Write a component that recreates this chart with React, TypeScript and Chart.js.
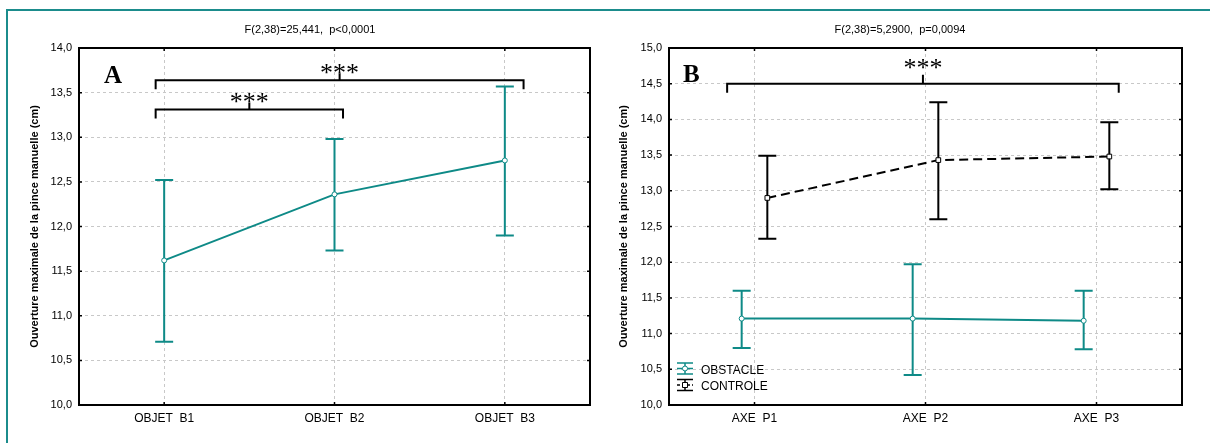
import React, { useEffect, useRef } from 'react';
import { Chart, registerables } from 'chart.js';
Chart.register(...registerables);

const TEAL = '#0e8a87';
const FRAME_TEAL = '#1b8c8c';
const SANS = "Arial, 'Liberation Sans', sans-serif";
const SERIF = "'Times New Roman', 'Liberation Serif', serif";

// ---------- Panel A data ----------
const categoriesA = ['OBJET  B1', 'OBJET  B2', 'OBJET  B3'];
const meanA = [11.62, 12.36, 12.74];
const lowA = [10.71, 11.73, 11.9];
const highA = [12.52, 12.98, 13.57];
const titleA = 'F(2,38)=25,441,  p<0,0001';

// ---------- Panel B data ----------
const categoriesB = ['AXE  P1', 'AXE  P2', 'AXE  P3'];
const obstacleMean = [11.21, 11.21, 11.18];
const obstacleLow = [10.8, 10.42, 10.78];
const obstacleHigh = [11.6, 11.97, 11.6];
const controleMean = [12.9, 13.43, 13.48];
const controleLow = [12.33, 12.6, 13.02];
const controleHigh = [13.49, 14.24, 13.96];
const titleB = 'F(2,38)=5,2900,  p=0,0094';

const yTitle = 'Ouverture maximale de la pince manuelle (cm)';
const legendLabels = ['OBSTACLE', 'CONTROLE'];

// significance brackets (category units / axis values)
const bracketsA = [
  { from: -0.05, to: 1.05, value: 13.31, label: '***' },
  { from: -0.05, to: 2.11, value: 13.64, label: '***' },
];
const bracketsB = [{ from: -0.16, to: 2.13, value: 14.5, label: '***' }];

const DODGE = 0.075;

type PanelCfg = {
  title: string;
  titleX: number;
  yTitleX: number;
  letter: string;
  letterX: number;
  letterY: number;
  brackets: { from: number; to: number; value: number; label: string }[];
  labelOffset: number;
  tickRise: number;
  errors: { lo: number[]; hi: number[]; color: string }[];
  legend: boolean;
};

function makePlugin(cfg: PanelCfg) {
  return {
    id: 'panelDecor',
    beforeDatasetsDraw(chart: any) {
      const ctx = chart.ctx;
      const xs = chart.scales.x;
      const ys = chart.scales.y;
      cfg.errors.forEach((e, di) => {
        const ds = chart.data.datasets[di];
        ctx.save();
        ctx.strokeStyle = e.color;
        ctx.lineWidth = 2;
        ds.data.forEach((pt: any, i: number) => {
          const x = xs.getPixelForValue(pt.x);
          const y1 = ys.getPixelForValue(e.lo[i]);
          const y2 = ys.getPixelForValue(e.hi[i]);
          ctx.beginPath();
          ctx.moveTo(x, y1);
          ctx.lineTo(x, y2);
          ctx.moveTo(x - 9, y1);
          ctx.lineTo(x + 9, y1);
          ctx.moveTo(x - 9, y2);
          ctx.lineTo(x + 9, y2);
          ctx.stroke();
        });
        ctx.restore();
      });
    },
    afterDraw(chart: any) {
      const ctx = chart.ctx;
      const { left, right, top, bottom } = chart.chartArea;
      const xs = chart.scales.x;
      const ys = chart.scales.y;
      ctx.save();
      // frame
      ctx.strokeStyle = '#000';
      ctx.lineWidth = 2;
      ctx.strokeRect(left, top, right - left, bottom - top);
      ctx.lineWidth = 1.5;
      ctx.beginPath();
      ys.ticks.forEach((t: any) => {
        const y = ys.getPixelForValue(t.value);
        ctx.moveTo(left, y);
        ctx.lineTo(left + 3, y);
        ctx.moveTo(right, y);
        ctx.lineTo(right - 3, y);
      });
      xs.ticks.forEach((t: any) => {
        const x = xs.getPixelForValue(t.value);
        ctx.moveTo(x, top);
        ctx.lineTo(x, top + 3);
        ctx.moveTo(x, bottom);
        ctx.lineTo(x, bottom - 3);
      });
      ctx.stroke();

      // title
      ctx.fillStyle = '#000';
      ctx.font = `11px ${SANS}`;
      ctx.textAlign = 'center';
      ctx.textBaseline = 'middle';
      ctx.fillText(cfg.title, cfg.titleX, 30);

      // y title
      ctx.save();
      ctx.translate(cfg.yTitleX, (top + bottom) / 2);
      ctx.rotate(-Math.PI / 2);
      ctx.font = `bold 11px ${SANS}`;
      ctx.fillText(yTitle, 0, 0);
      ctx.restore();

      // letter
      ctx.font = `bold 25px ${SERIF}`;
      ctx.textAlign = 'left';
      ctx.textBaseline = 'alphabetic';
      ctx.fillText(cfg.letter, cfg.letterX, cfg.letterY);

      // brackets
      ctx.strokeStyle = '#000';
      ctx.lineWidth = 2;
      cfg.brackets.forEach((b) => {
        const x1 = xs.getPixelForValue(b.from);
        const x2 = xs.getPixelForValue(b.to);
        const y = ys.getPixelForValue(b.value);
        const xm = (x1 + x2) / 2;
        ctx.beginPath();
        ctx.moveTo(x1, y + 9);
        ctx.lineTo(x1, y);
        ctx.lineTo(x2, y);
        ctx.lineTo(x2, y + 9);
        ctx.moveTo(xm, y);
        ctx.lineTo(xm, y - cfg.tickRise);
        ctx.stroke();
        ctx.font = `26px ${SERIF}`;
        ctx.textAlign = 'center';
        ctx.textBaseline = 'alphabetic';
        ctx.fillText(b.label, xm, y + cfg.labelOffset);
      });

      // legend
      if (cfg.legend) {
        const lx = left + 16;
        const rows = [
          { y: 368.5, color: TEAL, dash: [] as number[], shape: 'circle' },
          { y: 385, color: '#000', dash: [3, 2], shape: 'rect' },
        ];
        rows.forEach((r, i) => {
          ctx.save();
          ctx.strokeStyle = r.color;
          ctx.lineWidth = 1.5;
          ctx.beginPath();
          ctx.moveTo(lx - 8, r.y - 5.5);
          ctx.lineTo(lx + 8, r.y - 5.5);
          ctx.moveTo(lx - 8, r.y + 5.5);
          ctx.lineTo(lx + 8, r.y + 5.5);
          ctx.moveTo(lx, r.y - 5.5);
          ctx.lineTo(lx, r.y + 5.5);
          ctx.stroke();
          ctx.setLineDash(r.dash);
          ctx.beginPath();
          ctx.moveTo(lx - 8, r.y);
          ctx.lineTo(lx + 8, r.y);
          ctx.stroke();
          ctx.setLineDash([]);
          ctx.fillStyle = '#fff';
          ctx.lineWidth = 1;
          ctx.beginPath();
          if (r.shape === 'circle') ctx.arc(lx, r.y, 2.5, 0, Math.PI * 2);
          else ctx.rect(lx - 2.5, r.y - 2.5, 5, 5);
          ctx.fill();
          ctx.stroke();
          ctx.restore();
          ctx.fillStyle = '#000';
          ctx.font = `12px ${SANS}`;
          ctx.textAlign = 'left';
          ctx.textBaseline = 'middle';
          ctx.fillText(legendLabels[i], lx + 16, r.y + 2);
        });
      }
      ctx.restore();
    },
  };
}

function fmt(v: number) {
  return v.toFixed(1).replace('.', ',');
}

function buildOptions(cats: string[], yMin: number, yMax: number, areaLeft: number, padRight: number) {
  const padLeft = 8;
  return {
    responsive: false,
    animation: false as const,
    layout: { padding: { left: padLeft, right: padRight, top: 48, bottom: 8 } },
    plugins: { legend: { display: false }, title: { display: false }, tooltip: { enabled: false } },
    scales: {
      x: {
        type: 'linear' as const,
        min: -0.5,
        max: 2.5,
        afterBuildTicks: (scale: any) => {
          scale.ticks = cats.map((_, i) => ({ value: i }));
        },
        afterFit: (scale: any) => {
          scale.height = 30;
        },
        ticks: {
          color: '#000',
          font: { family: SANS, size: 12 },
          padding: 6,
          maxRotation: 0,
          minRotation: 0,
          autoSkip: false,
          callback: (v: any) => cats[Math.round(Number(v))] ?? '',
        },
        grid: { color: '#c8c8c8', lineWidth: 1, drawTicks: false },
        border: { display: false, dash: [3, 3] },
      },
      y: {
        type: 'linear' as const,
        min: yMin,
        max: yMax,
        afterFit: (scale: any) => {
          scale.width = areaLeft - padLeft;
        },
        ticks: {
          stepSize: 0.5,
          color: '#000',
          font: { family: SANS, size: 11 },
          padding: 7,
          callback: (v: any) => fmt(Number(v)),
        },
        grid: { color: '#c8c8c8', lineWidth: 1, drawTicks: false },
        border: { display: false, dash: [3, 3] },
      },
    },
  };
}

function PanelA() {
  const ref = useRef<HTMLCanvasElement>(null);
  useEffect(() => {
    const chart = new Chart(ref.current!, {
      type: 'line',
      data: {
        datasets: [
          {
            data: meanA.map((y, i) => ({ x: i, y })),
            borderColor: TEAL,
            borderWidth: 2,
            pointRadius: 2.5,
            pointBackgroundColor: '#fff',
            pointBorderColor: TEAL,
            pointBorderWidth: 1,
            tension: 0,
          },
        ],
      },
      options: buildOptions(categoriesA, 10, 14, 79, 15) as any,
      plugins: [
        makePlugin({
          title: titleA,
          titleX: 310,
          yTitleX: 35,
          letter: 'A',
          letterX: 104,
          letterY: 83,
          brackets: bracketsA,
          labelOffset: 0.5,
          tickRise: 7,
          errors: [{ lo: lowA, hi: highA, color: TEAL }],
          legend: false,
        }),
      ],
    });
    return () => chart.destroy();
  }, []);
  return <canvas ref={ref} width={605} height={443} style={{ position: 'absolute', left: 0, top: 0 }} />;
}

function PanelB() {
  const ref = useRef<HTMLCanvasElement>(null);
  useEffect(() => {
    const chart = new Chart(ref.current!, {
      type: 'line',
      data: {
        datasets: [
          {
            label: legendLabels[0],
            data: obstacleMean.map((y, i) => ({ x: i - DODGE, y })),
            borderColor: TEAL,
            borderWidth: 2,
            pointRadius: 2.5,
            pointBackgroundColor: '#fff',
            pointBorderColor: TEAL,
            pointBorderWidth: 1,
            tension: 0,
          },
          {
            label: legendLabels[1],
            data: controleMean.map((y, i) => ({ x: i + DODGE, y })),
            borderColor: '#000',
            borderWidth: 2,
            borderDash: [9, 5],
            pointStyle: 'rect',
            pointRadius: 3.3,
            pointBackgroundColor: '#fff',
            pointBorderColor: '#000',
            pointBorderWidth: 1,
            tension: 0,
          },
        ],
      },
      options: buildOptions(categoriesB, 10, 15, 64, 28) as any,
      plugins: [
        makePlugin({
          title: titleB,
          titleX: 295,
          yTitleX: 19,
          letter: 'B',
          letterX: 78,
          letterY: 82,
          brackets: bracketsB,
          labelOffset: -8,
          tickRise: 9,
          errors: [
            { lo: obstacleLow, hi: obstacleHigh, color: TEAL },
            { lo: controleLow, hi: controleHigh, color: '#000' },
          ],
          legend: true,
        }),
      ],
    });
    return () => chart.destroy();
  }, []);
  return <canvas ref={ref} width={605} height={443} style={{ position: 'absolute', left: 605, top: 0 }} />;
}

export default function App() {
  return (
    <div
      style={{
        position: 'absolute',
        left: 0,
        top: 0,
        width: 1210,
        height: 443,
        background: '#fff',
        overflow: 'hidden',
      }}
    >
      <div
        style={{
          position: 'absolute',
          left: 6,
          top: 9,
          width: 1220,
          height: 450,
          borderLeft: `2px solid ${FRAME_TEAL}`,
          borderTop: `2px solid ${FRAME_TEAL}`,
        }}
      />
      <PanelA />
      <PanelB />
    </div>
  );
}
